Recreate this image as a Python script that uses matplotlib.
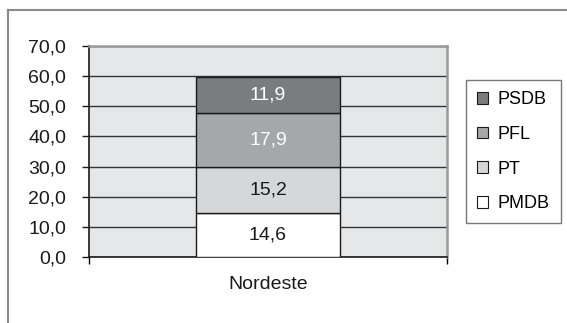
import matplotlib.pyplot as plt
from matplotlib.patches import Patch
from matplotlib.lines import Line2D

plt.rcParams['font.family'] = ['Liberation Sans', 'DejaVu Sans']

category = ['Nordeste']
parties = ['PMDB', 'PT', 'PFL', 'PSDB']
values = [14.6, 15.2, 17.9, 11.9]
labels = ['14,6', '15,2', '17,9', '11,9']
colors = ['#ffffff', '#d6d7d9', '#a6a7a9', '#7b7c7e']
label_colors = ['#1a1a1a', '#1a1a1a', '#ffffff', '#ffffff']
yticks = [0, 10, 20, 30, 40, 50, 60, 70]

W, H = 567, 323
fs = 14
fig = plt.figure(figsize=(W / 100, H / 100), dpi=100)
fig.patch.set_facecolor('white')

# outer chart frame (left and top only)
fig.add_artist(Line2D([8 / W, 8 / W], [0, 1 - 10 / H], color='#8a8a8a', lw=1.5))
fig.add_artist(Line2D([8 / W, 1], [1 - 10 / H, 1 - 10 / H], color='#8a8a8a', lw=1.5))

ax = fig.add_axes([89 / W, 1 - 257 / H, (447 - 89) / W, (257 - 46) / H])
ax.set_facecolor('#e6e7e8')

bottom = 0
for p, v, lab, c, lc in zip(parties, values, labels, colors, label_colors):
    ax.bar(0, v, width=0.4, bottom=bottom, color=c, edgecolor='#1a1a1a',
           linewidth=1.0, zorder=3, label=p)
    ax.text(0, bottom + v / 2, lab, ha='center', va='center', fontsize=fs,
            color=lc, zorder=4)
    bottom += v

ax.set_xlim(-0.5, 0.5)
ax.set_ylim(0, 70)
ax.set_yticks(yticks)
ax.set_yticklabels([f'{t:.1f}'.replace('.', ',') for t in yticks], fontsize=fs)
ax.yaxis.grid(True, color='#333333', lw=1.0, zorder=1)
ax.set_axisbelow(True)
ax.tick_params(axis='y', direction='out', length=5, width=1, pad=11.5, colors='#1a1a1a')
ax.set_xticks([0])
ax.set_xticklabels(category, fontsize=fs)
ax.tick_params(axis='x', which='major', length=0, pad=13.5, colors='#1a1a1a')
ax.set_xticks([-0.5, 0.5], minor=True)
ax.tick_params(axis='x', which='minor', direction='out', length=5, width=1)

for s in ['left', 'bottom']:
    ax.spines[s].set_color('#1a1a1a')
    ax.spines[s].set_linewidth(1.2)
for s in ['top', 'right']:
    ax.spines[s].set_color('#9a9a9a')
    ax.spines[s].set_linewidth(1.8)

handles = [Patch(facecolor=c, edgecolor='#1a1a1a', lw=0.8) for c in colors][::-1]
leg = fig.legend(handles, parties[::-1], loc='upper left',
                 bbox_to_anchor=(466 / W, 1 - 80 / H), fontsize=13,
                 frameon=True, fancybox=False, edgecolor='#555555',
                 handlelength=0.6, handleheight=0.6, handletextpad=0.55,
                 labelspacing=0.98, borderpad=0.62, borderaxespad=0)
leg.get_frame().set_linewidth(1.0)

fig.savefig('out.png', dpi=100)
